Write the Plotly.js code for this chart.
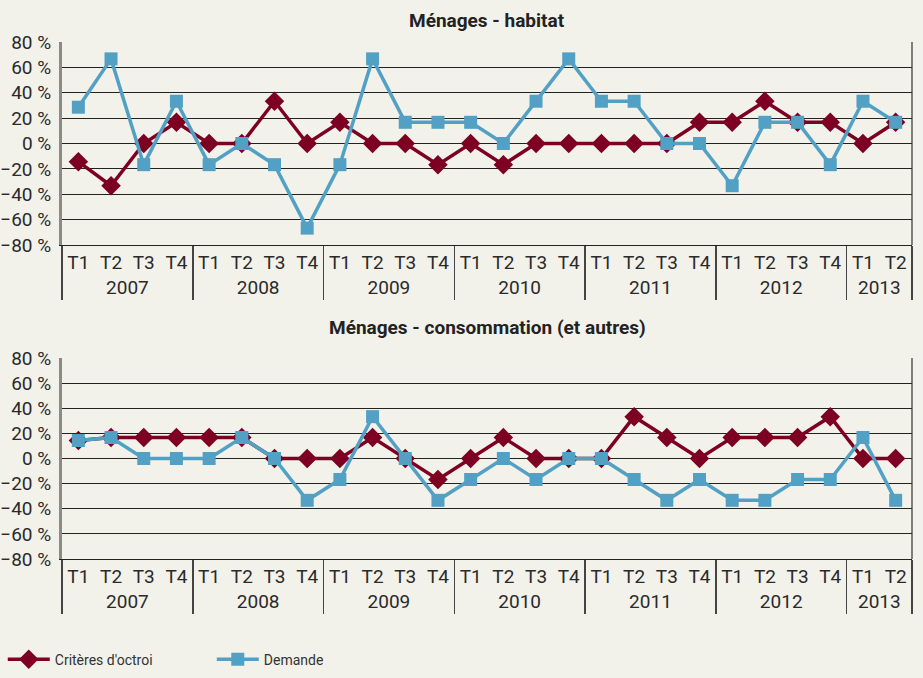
<!DOCTYPE html>
<html>
<head>
<meta charset="utf-8">
<script src="https://cdn.plot.ly/plotly-3.0.1.min.js"></script>
<style>
html,body{margin:0;padding:0;background:#f2f1ea;}
#chart{width:923px;height:678px;}
</style>
</head>
<body>
<div id="chart"></div>
<script>
// Data
var years = ["2007","2007","2007","2007","2008","2008","2008","2008","2009","2009","2009","2009","2010","2010","2010","2010","2011","2011","2011","2011","2012","2012","2012","2012","2013","2013"];
var quarters = ["T1","T2","T3","T4","T1","T2","T3","T4","T1","T2","T3","T4","T1","T2","T3","T4","T1","T2","T3","T4","T1","T2","T3","T4","T1","T2"];

var habitatCriteres = [-14.3,-33.3,0,16.7, 0,0,33.3,0, 16.7,0,0,-16.7, 0,-16.7,0,0, 0,0,0,16.7, 16.7,33.3,16.7,16.7, 0,16.7];
var habitatDemande  = [28.6,66.7,-16.7,33.3, -16.7,0,-16.7,-66.7, -16.7,66.7,16.7,16.7, 16.7,0,33.3,66.7, 33.3,33.3,0,0, -33.3,16.7,16.7,-16.7, 33.3,16.7];

var consoCriteres = [14.3,16.7,16.7,16.7, 16.7,16.7,0,0, 0,16.7,0,-16.7, 0,16.7,0,0, 0,33.3,16.7,0, 16.7,16.7,16.7,33.3, 0,0];
var consoDemande  = [14.3,16.7,0,0, 0,16.7,0,-33.3, -16.7,33.3,0,-33.3, -16.7,0,-16.7,0, 0,-16.7,-33.3,-16.7, -33.3,-33.3,-16.7,-16.7, 16.7,-33.3];

var seriesNames = ["Critères d'octroi", "Demande"];
var panelTitles = ["Ménages - habitat", "Ménages - consommation (et autres)"];

var RED = "#7d0022", BLUE = "#52a0c4";
var FONT = "Roboto, 'DejaVu Sans', sans-serif";

function critTrace(y, xa, ya, show){
  return {x:[years,quarters], y:y, xaxis:xa, yaxis:ya, type:"scatter", mode:"lines+markers",
    name:seriesNames[0], showlegend:show, legendgroup:"c",
    line:{color:RED, width:3.5}, marker:{symbol:"diamond", size:15, color:RED}};
}
function demTrace(y, xa, ya, show){
  return {x:[years,quarters], y:y, xaxis:xa, yaxis:ya, type:"scatter", mode:"lines+markers",
    name:seriesNames[1], showlegend:show, legendgroup:"d",
    line:{color:BLUE, width:3.5}, marker:{symbol:"square", size:13, color:BLUE}};
}

var data = [
  critTrace(habitatCriteres, "x", "y", true),
  demTrace(habitatDemande, "x", "y", true),
  critTrace(consoCriteres, "x2", "y2", false),
  demTrace(consoDemande, "x2", "y2", false)
];

function xax(anchor){
  return {type:"multicategory", anchor:anchor, automargin:false, showgrid:false, showline:true, linecolor:"#222", linewidth:1.2,
    showdividers:true, dividercolor:"#444", dividerwidth:1.5, ticks:"", tickfont:{family:FONT, size:19, color:"#2a2a2a"},
    range:[-0.5,25.5], zeroline:false};
}
function yax(domain, anchor){
  return {domain:domain, anchor:anchor, automargin:false, range:[-80,80], dtick:20, tick0:0, ticksuffix:" %",
    showgrid:true, gridcolor:"#222", gridwidth:1.2, zeroline:false,
    showline:true, linecolor:"#8a8a86", linewidth:3,
    tickfont:{family:FONT, size:19, color:"#2a2a2a"}, ticks:"", ticklabelstandoff:4};
}

var layout = {
  width:923, height:678,
  paper_bgcolor:"#f2f1ea", plot_bgcolor:"#f2f1ea",
  margin:{l:62, r:11, t:42, b:119},
  font:{family:FONT, color:"#222"},
  xaxis: xax("y"),
  yaxis: yax([0.6074,1], "x"),
  xaxis2: xax("y2"),
  yaxis2: yax([0,0.3888], "x2"),
  showlegend:true,
  legend:{orientation:"h", xref:"container", yref:"container", x:0.003, xanchor:"left", y:0.027, yanchor:"middle",
    font:{family:FONT, size:14, color:"#333"}, bgcolor:"rgba(0,0,0,0)", itemwidth:42,
    entrywidth:152, entrywidthmode:"pixels", tracegroupgap:0},
  annotations:[
    {text:"<b>"+panelTitles[0]+"</b>", xref:"paper", yref:"paper", x:0.5, y:1.0, yshift:22, showarrow:false,
     xanchor:"center", yanchor:"middle", font:{family:FONT, size:19, color:"#222"}},
    {text:"<b>"+panelTitles[1]+"</b>", xref:"paper", yref:"paper", x:0.5, y:0.3888, yshift:30, showarrow:false,
     xanchor:"center", yanchor:"middle", font:{family:FONT, size:19, color:"#222"}}
  ],
  shapes:[
    {type:"line", xref:"x domain", yref:"y domain", x0:1, x1:1, y0:0, y1:1, line:{color:"#333", width:1.2}},
    {type:"line", xref:"x2 domain", yref:"y2 domain", x0:1, x1:1, y0:0, y1:1, line:{color:"#333", width:1.2}}
  ]
};

Plotly.newPlot("chart", data, layout, {displayModeBar:false, staticPlot:true});
</script>
</body>
</html>
